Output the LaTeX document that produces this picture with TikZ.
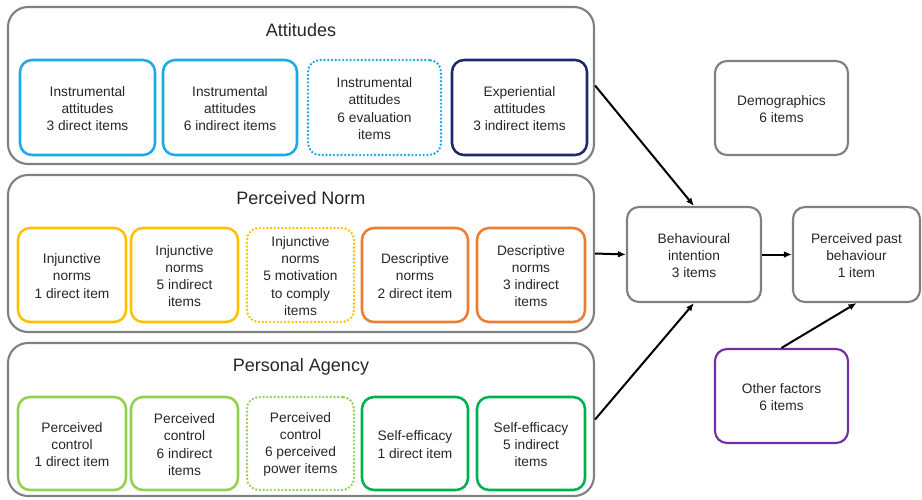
\documentclass[tikz,border=0pt]{standalone}
\usepackage{fontspec}
\setmainfont{Liberation Sans}
\usetikzlibrary{fit,arrows.meta}
\definecolor{gframe}{HTML}{808080}
\definecolor{txt}{HTML}{262626}
\definecolor{cblue}{HTML}{1AAAE6}
\definecolor{cnavy}{HTML}{1B2A6B}
\definecolor{cyel}{HTML}{FFC000}
\definecolor{corange}{HTML}{ED7D31}
\definecolor{clgreen}{HTML}{92D050}
\definecolor{cgreen}{HTML}{00B050}
\definecolor{cpurple}{HTML}{7030A0}
\tikzset{
  grp/.style={draw=gframe, line width=1.6pt, rounded corners=15pt, inner sep=0pt},
  btxt/.style={align=center, text=txt, font=\fontsize{10.3}{12.8}\selectfont,
    inner sep=0pt, yshift=-0.8pt},
  ibox/.style={draw=#1, line width=1.9pt, rounded corners=9pt, inner sep=0pt},
  dotbox/.style={ibox=#1, dash pattern=on 0pt off 2.8pt, line cap=round, line width=2pt},
  rbox/.style={ibox=gframe, line width=1.6pt},
  ttl/.style={text=txt, font=\fontsize{13.5}{16}\selectfont, inner sep=0pt},
  arr/.style={line width=1.5pt, -{Latex[length=6pt,width=5pt]}}
}
\begin{document}
\begin{tikzpicture}[x=0.75pt,y=-0.75pt]
\useasboundingbox (0,0) rectangle (922,500);
% groups
\node[grp, fit={(8,7) (594,164)}] (att) {};
\node[grp, fit={(8,175) (594,332)}] (norm) {};
\node[grp, fit={(8,343) (594,496)}] (ag) {};
\node[ttl] (tatt) at (301,30) {Attitudes};
\node[ttl] (tnorm) at (301,198) {Perceived Norm};
\node[ttl] (tag) at (301,367) {Personal Agency};
% attitudes
\node[ibox=cblue, fit={(20,60) (155,155)}, label={[btxt]center:Instrumental\\attitudes\\3 direct items}] (a1) {};
\node[ibox=cblue, fit={(163,60) (297,155)}, label={[btxt]center:Instrumental\\attitudes\\6 indirect items}] (a2) {};
\node[dotbox=cblue, fit={(308,60) (441,155)}, label={[btxt]center:Instrumental\\attitudes\\6 evaluation\\items}] (a3) {};
\node[ibox=cnavy, fit={(452,60) (587,155)}, label={[btxt]center:Experiential\\attitudes\\3 indirect items}] (a4) {};
% norms
\node[ibox=cyel, fit={(18,228) (126,322)}, label={[btxt]center:Injunctive\\norms\\1 direct item}] (n1) {};
\node[ibox=cyel, fit={(131,228) (238,322)}, label={[btxt]center:Injunctive\\norms\\5 indirect\\items}] (n2) {};
\node[dotbox=cyel, fit={(247,228) (354,322)}, label={[btxt]center:Injunctive\\norms\\5 motivation\\to comply\\items}] (n3) {};
\node[ibox=corange, fit={(362,228) (468,322)}, label={[btxt]center:Descriptive\\norms\\2 direct item}] (n4) {};
\node[ibox=corange, fit={(477,228) (585,322)}, label={[btxt]center:Descriptive\\norms\\3 indirect\\items}] (n5) {};
% agency
\node[ibox=clgreen, fit={(18,397) (126,490)}, label={[btxt]center:Perceived\\control\\1 direct item}] (p1) {};
\node[ibox=clgreen, fit={(131,397) (238,490)}, label={[btxt]center:Perceived\\control\\6 indirect\\items}] (p2) {};
\node[dotbox=clgreen, fit={(247,397) (354,490)}, label={[btxt]center:Perceived\\control\\6 perceived\\power items}] (p3) {};
\node[ibox=cgreen, fit={(362,397) (468,490)}, label={[btxt]center:Self-efficacy\\1 direct item}] (p4) {};
\node[ibox=cgreen, fit={(477,397) (585,490)}, label={[btxt]center:Self-efficacy\\5 indirect\\items}] (p5) {};
% right side
\node[rbox, fit={(715,61) (848,155)}, label={[btxt]center:Demographics\\6 items}] (dem) {};
\node[rbox, fit={(627,207) (761,302)}, label={[btxt]center:Behavioural\\intention\\3 items}] (bi) {};
\node[rbox, fit={(793,207) (920,302)}, label={[btxt]center:Perceived past\\behaviour\\1 item}] (ppb) {};
\node[ibox=cpurple, line width=1.6pt, fit={(715,349) (848,443)}, label={[btxt]center:Other factors\\6 items}] (oth) {};
% arrows
\draw[arr] (att.east) -- (bi.north);
\draw[arr] (norm.east) -- (bi.west);
\draw[arr] (ag.east) -- (bi.south);
\draw[arr] (bi.east) -- (ppb.west);
\draw[arr] (oth.north) -- (ppb.south);
\end{tikzpicture}
\end{document}
